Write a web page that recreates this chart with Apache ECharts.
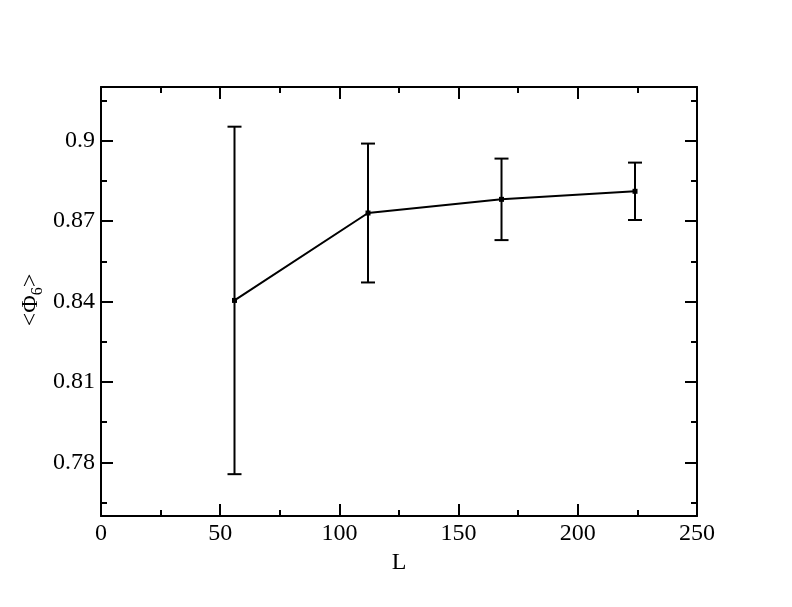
<!DOCTYPE html>
<html>
<head>
<meta charset="utf-8">
<script src="https://cdn.jsdelivr.net/npm/echarts@6/dist/echarts.min.js"></script>
<style>html,body{margin:0;padding:0;background:#fff}#c{width:792px;height:607px}</style>
</head>
<body>
<div id="c"></div>
<script>
const L = [56, 112, 168, 224];
const phi = [0.8404, 0.8730, 0.8781, 0.8811];
const err = [0.0648, 0.0259, 0.0152, 0.0107];
const yMajor = [0.78, 0.81, 0.84, 0.87, 0.90];
const yMinor = [0.765, 0.795, 0.825, 0.855, 0.885, 0.915];
const yLabels = ['0.78', '0.81', '0.84', '0.87', '0.9'];

const chart = echarts.init(document.getElementById('c'), null, {renderer: 'canvas'});
const FONT = '"Liberation Serif", "Times New Roman", serif';
const black = '#000';

function yAx(pos, ticks, len, showLabel, showLine) {
  return {
    type: 'value', position: pos, min: 0.76, max: 0.92,
    axisLine: {show: showLine, onZero: false, lineStyle: {color: black, width: 2}},
    splitLine: {show: false},
    axisTick: {show: true, inside: true, length: len, customValues: ticks, lineStyle: {color: black, width: 2}},
    axisLabel: {show: showLabel, customValues: ticks, margin: 6, color: black, fontFamily: FONT, fontSize: 24,
      formatter: v => { const i = yMajor.findIndex(m => Math.abs(m - v) < 1e-6); return i >= 0 ? yLabels[i] : ''; }}
  };
}
function xAx(pos, showLabel) {
  return {
    type: 'value', position: pos, min: 0, max: 250, interval: 50,
    name: showLabel ? 'L' : '', nameLocation: 'middle', nameGap: 32,
    nameTextStyle: {color: black, fontFamily: FONT, fontSize: 24},
    axisLine: {show: true, onZero: false, lineStyle: {color: black, width: 2}},
    splitLine: {show: false},
    axisTick: {show: true, inside: true, length: 12, lineStyle: {color: black, width: 2}},
    minorTick: {show: true, splitNumber: 2, length: 6, lineStyle: {color: black, width: 2}},
    axisLabel: {show: showLabel, margin: 6, color: black, fontFamily: FONT, fontSize: 24}
  };
}

const errData = L.map((x, i) => [x, phi[i] - err[i], phi[i] + err[i]]);

chart.setOption({
  animation: false,
  backgroundColor: '#fff',
  textStyle: {fontFamily: FONT},
  grid: {left: 101, right: 95, top: 87, bottom: 91, containLabel: false},
  xAxis: [xAx('bottom', true), xAx('top', false)],
  yAxis: [
    yAx('left', yMajor, 12, true, true),
    yAx('left', yMinor, 6, false, false),
    yAx('right', yMajor, 12, false, true),
    yAx('right', yMinor, 6, false, false)
  ],
  graphic: [{
    type: 'text', x: 31, y: 300, rotation: Math.PI / 2,
    style: {
      text: '{a|<Φ}{s|6}{a|>}',
      align: 'center', verticalAlign: 'middle',
      rich: {
        a: {fontFamily: FONT, fontSize: 24, fill: black},
        s: {fontFamily: FONT, fontSize: 16, fill: black, padding: [13, 0, 0, 0]}
      }
    }
  }],
  series: [
    {
      type: 'custom', xAxisIndex: 0, yAxisIndex: 0,
      data: errData,
      renderItem: function (params, api) {
        const x = api.value(0);
        const lo = api.coord([x, api.value(1)]);
        const hi = api.coord([x, api.value(2)]);
        const w = 7;
        const st = {stroke: black, lineWidth: 2};
        return {type: 'group', children: [
          {type: 'line', shape: {x1: lo[0], y1: lo[1], x2: hi[0], y2: hi[1]}, style: st},
          {type: 'line', shape: {x1: lo[0] - w, y1: lo[1], x2: lo[0] + w, y2: lo[1]}, style: st},
          {type: 'line', shape: {x1: hi[0] - w, y1: hi[1], x2: hi[0] + w, y2: hi[1]}, style: st}
        ]};
      },
      z: 2
    },
    {
      type: 'line', xAxisIndex: 0, yAxisIndex: 0,
      data: L.map((x, i) => [x, phi[i]]),
      symbol: 'rect', symbolSize: 5,
      itemStyle: {color: black},
      lineStyle: {color: black, width: 2},
      z: 3
    }
  ]
});
</script>
</body>
</html>
